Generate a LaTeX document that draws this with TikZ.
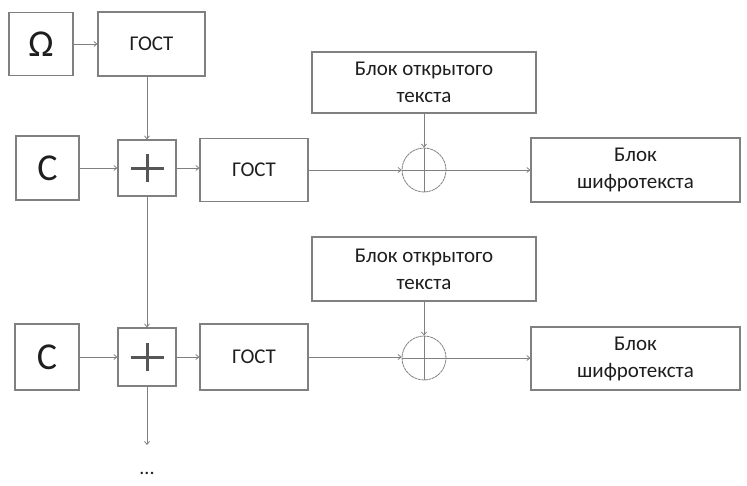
\documentclass[tikz,border=0pt]{standalone}
\usepackage{fontspec}
\setmainfont{Carlito}
\usetikzlibrary{arrows.meta}
\definecolor{edge}{RGB}{128,128,128}
\definecolor{ink}{RGB}{30,30,30}
\tikzset{
  box/.style={draw=edge, line width=1.2pt, inner sep=0pt, text=ink, align=center, font=\fontsize{21}{27}\selectfont},
  bigsym/.style={box, font=\fontsize{38}{40}\selectfont},
  xorc/.style={circle, draw=edge, line width=0.8pt, dash pattern=on 3pt off 0.6pt, minimum size=44pt, inner sep=0pt},
  conn/.style={draw=edge, line width=1pt, -{Straight Barb[length=3pt,width=5pt,line width=0.8pt]}},
  plain/.style={draw=edge, line width=0.9pt},
}
\begin{document}
\begin{tikzpicture}[x=1pt,y=-1pt]
\useasboundingbox (0,0) rectangle (747,485);
% top row
\node[bigsym, minimum width=64pt, minimum height=63pt] (om) at (41,44) {Ω};
\node[box, minimum width=107pt, minimum height=64pt] (g0) at (151.5,44) {ГОСТ};
% row 1
\node[bigsym, minimum width=63pt, minimum height=64pt] (c1) at (47.5,168) {C};
\node[box, minimum width=58pt, minimum height=56pt] (p1) at (147,168) {};
\node[box, minimum width=108pt, minimum height=63pt] (g1) at (254,170) {ГОСТ};
\node[xorc] (x1) at (424,170) {};
\node[box, minimum width=224pt, minimum height=61pt] (t1) at (424,82.5) {Блок открытого\\текста};
\node[box, minimum width=209pt, minimum height=64pt] (s1) at (635.5,170) {Блок\\шифротекста};
% row 2
\node[bigsym, minimum width=64pt, minimum height=66pt] (c2) at (47,357) {C};
\node[box, minimum width=58pt, minimum height=58pt] (p2) at (147,357) {};
\node[box, minimum width=108pt, minimum height=66pt] (g2) at (254,357) {ГОСТ};
\node[xorc] (x2) at (424,358) {};
\node[box, minimum width=224pt, minimum height=64pt] (t2) at (424,269) {Блок открытого\\текста};
\node[box, minimum width=209pt, minimum height=63pt] (s2) at (635.5,358.5) {Блок\\шифротекста};
\coordinate (end) at (147,445);
\node[text=ink, font=\fontsize{20}{24}\selectfont] (dots) at (147,473) {...};
% plus signs
\foreach \p in {p1,p2}{
  \draw[draw=ink!75, line width=3pt] ([xshift=-16.5pt]\p.center) -- ([xshift=16.5pt]\p.center);
  \draw[draw=ink!75, line width=3pt] ([yshift=-14pt]\p.center) -- ([yshift=14pt]\p.center);
}
% xor crosses
\foreach \x in {x1,x2}{
  \draw[plain, line width=0.8pt] (\x.north) -- (\x.south);
  \draw[plain, line width=0.8pt] (\x.west) -- (\x.east);
}
% connectors
\draw[conn] (om.east) -- (g0.west);
\draw[conn] (g0.south -| p1.north) -- (p1.north);
\draw[conn] (c1.east) -- (p1.west);
\draw[conn] (p1.east) -- (p1.east -| g1.west);
\draw[conn] (g1.east) -- (x1.west);
\draw[conn] (x1.east) -- (s1.west);
\draw[conn] (t1.south) -- (x1.north);
\draw[conn] (p1.south) -- (p2.north);
\draw[conn] (c2.east) -- (p2.west);
\draw[conn] (p2.east) -- (g2.west);
\draw[conn] (g2.east) -- (g2.east -| x2.west);
\draw[conn] (x2.east) -- (x2.east -| s2.west);
\draw[conn] (t2.south) -- (x2.north);
\draw[conn] (p2.south) -- (end);
\end{tikzpicture}
\end{document}
